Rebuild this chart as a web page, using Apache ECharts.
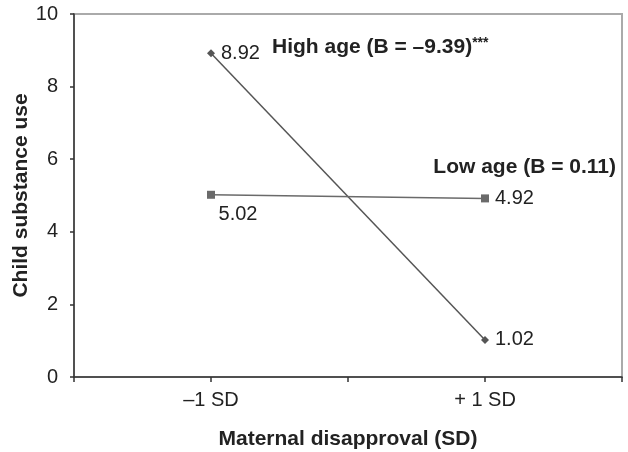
<!DOCTYPE html>
<html>
<head>
<meta charset="utf-8">
<script src="https://cdn.jsdelivr.net/npm/echarts@6/dist/echarts.min.js"></script>
<style>html,body{margin:0;padding:0;background:#fff}#c{width:628px;height:452px}</style>
</head>
<body>
<div id="c"></div>
<script>
var categories = ['\u20131 SD', '+ 1 SD'];
var categoryPos = [1, 3];
var highAge = [8.92, 1.02];
var lowAge = [5.02, 4.92];
var highName = 'High age (B = \u20139.39)';
var lowName = 'Low age (B = 0.11)';
var yTicks = [0, 2, 4, 6, 8, 10];

var FONT = '"Liberation Sans", Arial, sans-serif';
var FS = 20;
var FB = 21;
function pts(vals){ return vals.map(function(v,i){ return [categoryPos[i], v]; }); }

var chart = echarts.init(document.getElementById('c'));
chart.setOption({
  animation: false,
  textStyle: {fontFamily: FONT},
  grid: {left: 74, right: 6, top: 14, bottom: 75, outerBoundsMode: 'none', containLabel: false,
    show: true, borderColor: '#aaa', borderWidth: 2, backgroundColor: 'transparent'},
  xAxis: {
    type: 'value', min: 0, max: 4, interval: 1,
    name: 'Maternal disapproval (SD)', nameLocation: 'middle', nameGap: 52,
    nameTextStyle: {fontFamily: FONT, fontWeight: 'bold', fontSize: FB, color: '#222'},
    axisLine: {lineStyle: {color: '#333', width: 1.5}},
    axisTick: {show: true, length: 5, lineStyle: {color: '#333', width: 1.5}},
    splitLine: {show: false},
    axisLabel: {
      margin: 13, fontSize: FS, color: '#222', fontFamily: FONT,
      formatter: function(v){ var i = categoryPos.indexOf(v); return i >= 0 ? categories[i] : ''; }
    }
  },
  yAxis: {
    type: 'value', min: yTicks[0], max: yTicks[yTicks.length-1], interval: 2,
    name: 'Child substance use', nameLocation: 'middle', nameGap: 42, nameMoveOverlap: false,
    nameTextStyle: {fontFamily: FONT, fontWeight: 'bold', fontSize: FB, color: '#222'},
    axisLine: {show: true, lineStyle: {color: '#333', width: 1.5}},
    axisTick: {show: true, length: 4, lineStyle: {color: '#333', width: 1.5}},
    splitLine: {show: false},
    axisLabel: {margin: 16, fontSize: FS, color: '#222', fontFamily: FONT}
  },
  series: [
    {
      name: highName, type: 'line', data: pts(highAge),
      symbol: 'diamond', symbolSize: 8,
      lineStyle: {color: '#555', width: 1.5},
      itemStyle: {color: '#555'},
      label: {show: true, position: 'right', distance: 6, fontSize: FS, color: '#222', fontFamily: FONT,
        formatter: function(p){ return p.value[1].toFixed(2); }},
      markPoint: {
        symbol: 'circle', symbolSize: 0,
        data: [{coord: pts(highAge)[0], value: 0}],
        label: {show: true, position: 'inside', offset: [61, -6], align: 'left', verticalAlign: 'middle',
          formatter: '{n|' + highName + '}{s|***}',
          rich: {n: {fontWeight: 'bold', fontSize: FB, color: '#222', fontFamily: FONT},
                 s: {fontWeight: 'bold', fontSize: 14, color: '#222', fontFamily: FONT, verticalAlign: 'top', padding: [0,0,8,0]}}}
      }
    },
    {
      name: lowName, type: 'line', data: pts(lowAge),
      symbol: 'rect', symbolSize: 8,
      lineStyle: {color: '#6a6a6a', width: 1.5},
      itemStyle: {color: '#6a6a6a'},
      label: {show: true, fontSize: FS, color: '#222', fontFamily: FONT,
        formatter: function(p){ return p.value[1].toFixed(2); }},
      markPoint: {
        symbol: 'circle', symbolSize: 0,
        data: [{coord: pts(lowAge)[1], value: 0}],
        label: {show: true, position: 'inside', offset: [131, -31], align: 'right', verticalAlign: 'middle',
          formatter: lowName, fontWeight: 'bold', fontSize: FB, color: '#222', fontFamily: FONT}
      }
    }
  ]
});
// per-point label placement for the low-age series
chart.setOption({
  series: [{}, {
    data: [
      {value: pts(lowAge)[0], label: {position: 'bottom', distance: 6, offset: [27, 0]}},
      {value: pts(lowAge)[1], label: {position: 'right', distance: 6}}
    ]
  }]
});
</script>
</body>
</html>
